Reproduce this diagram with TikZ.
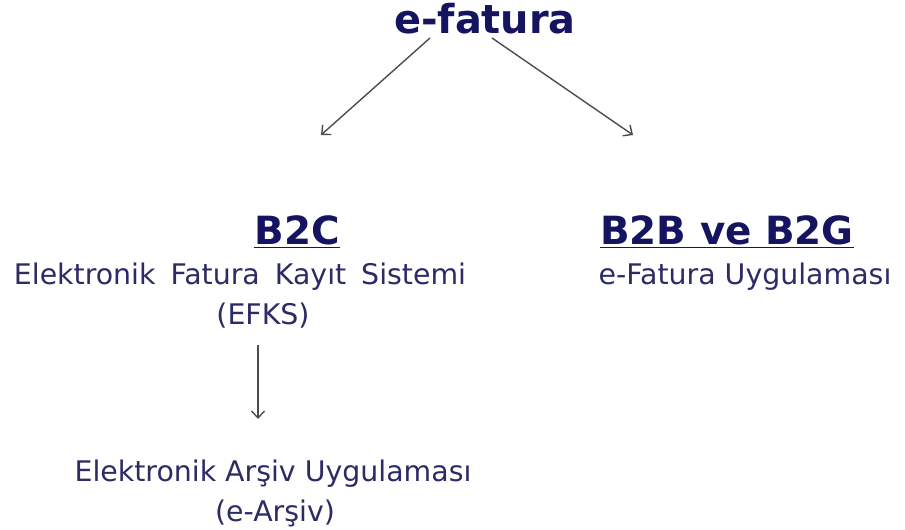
\documentclass[tikz,border=0pt]{standalone}
\usepackage{fontspec}
\setmainfont{DejaVu Sans}
\usetikzlibrary{arrows.meta}

\definecolor{titlecol}{rgb}{0.08,0.08,0.38}
\definecolor{textcol}{rgb}{0.17,0.17,0.40}
\definecolor{edgecol}{rgb}{0.30,0.30,0.30}

\begin{document}
\begin{tikzpicture}[x=1bp,y=-1bp,>={Straight Barb[length=7bp,width=13bp]},line join=bevel,
    head/.style={text=titlecol,font=\bfseries\fontsize{40}{46}\selectfont,anchor=base,inner sep=0pt},
    sub/.style={text=titlecol,font=\bfseries\fontsize{39}{45}\selectfont,anchor=base,inner sep=0pt},
    body/.style={text=textcol,font=\fontsize{28.5}{34}\selectfont,anchor=base,inner sep=0pt},
    edge/.style={->,draw=edgecol,line width=1.4bp}]
  \useasboundingbox (0,0) rectangle (905,530);
  % Node: efatura
  \node [head] (efatura) at (485,34) {e-fatura};
  % Node: b2c
  \node [sub] (b2c) at (297,245) {\underline{B2C}};
  \node [body] (efks) at (240,285) {\spaceskip=15bp Elektronik Fatura Kayıt Sistemi};
  \node [body] (efksabbr) at (263,325) {(EFKS)};
  % Node: b2b
  \node [sub] (b2b) at (727,245) {\underline{B2B ve B2G}};
  \node [body] (efu) at (745,285) {e-Fatura Uygulaması};
  % Node: earsiv
  \node [body] (earsiv) at (273,481) {Elektronik Arşiv Uygulaması};
  \node [body] (earsivabbr) at (275,521) {(e-Arşiv)};
  % Edge: efatura -> b2c
  \coordinate (lfrom) at (430,38);
  \coordinate (lto) at (321,135);
  \draw [edge] (lfrom) -- (lto);
  % Edge: efatura -> b2b
  \coordinate (rfrom) at (492,38);
  \coordinate (rto) at (633,135);
  \draw [edge] (rfrom) -- (rto);
  % Edge: efks -> earsiv
  \coordinate (dfrom) at (258,345);
  \coordinate (dto) at (258,419);
  \draw [edge] (dfrom) -- (dto);
\end{tikzpicture}
\end{document}
